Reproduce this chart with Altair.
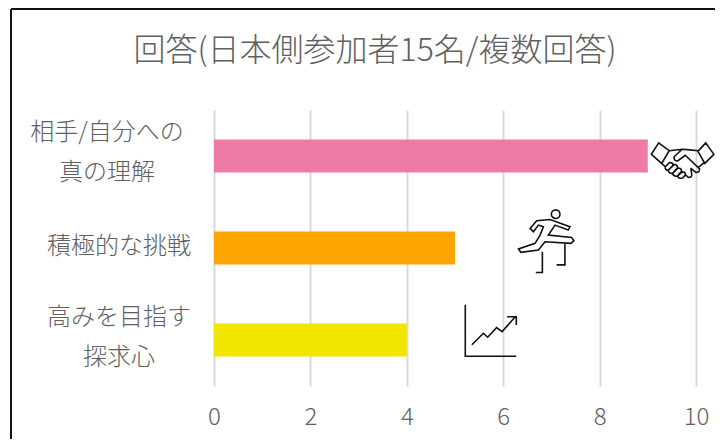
import altair as alt
import pandas as pd

FONT = "Noto Sans CJK JP"
TEXT = "#606060"

categories = ["相手/自分への\n真の理解", "積極的な挑戦", "高みを目指す\n探求心"]
values = [9, 5, 4]
colors = ["#EE7BA6", "#FFA500", "#F0E600"]
ticks = [0, 2, 4, 6, 8, 10]
title_text = "回答(日本側参加者15名/複数回答)"

WIDTH, HEIGHT = 482, 276
PAD_L, PAD_T, PAD_R, PAD_B = 206, 102, 19, 53

df = pd.DataFrame({"cat": categories, "val": values, "color": colors})
y_enc = alt.Y(
    "cat:N", sort=categories, axis=None,
    scale=alt.Scale(domain=categories, paddingInner=0.64, paddingOuter=0.32),
)

bars = alt.Chart(df).mark_bar(cornerRadius=0).encode(
    x=alt.X(
        "val:Q",
        scale=alt.Scale(domain=[0, 10], nice=False),
        axis=alt.Axis(
            values=ticks, title=None, domain=False, ticks=False,
            grid=True, gridColor="#d9d9d9", gridWidth=2,
            labelFont=FONT, labelFontSize=24, labelFontWeight=300, labelColor=TEXT,
            labelPadding=31, labelBaseline="middle", labelFlush=False, labelBound=False,
        ),
    ),
    y=y_enc,
    color=alt.Color("color:N", scale=None),
)


def label_layer(cats, x_center, dy):
    return alt.Chart(pd.DataFrame({"cat": cats})).mark_text(
        font=FONT, fontSize=24, fontWeight=300, color=TEXT,
        lineBreak="\n", lineHeight=40, align="center", baseline="middle", dy=dy,
    ).encode(x=alt.value(x_center - 214), y=y_enc, text="cat:N")


labels_a = label_layer(categories[:1], 107, -23)
labels_b = label_layer(categories[1:2], 119, -1)
labels_c = label_layer(categories[2:], 119, -22)


def icon_path(cx, cy, half, cmds):
    """Turn drawing commands measured on a crop into a unit symbol path."""
    out = []
    for c in cmds:
        if isinstance(c, str):
            out.append(c)
        else:
            out.append(f"{(c[0]-cx)/half:.3f},{(c[1]-cy)/half:.3f}")
    return " ".join(out)


handshake = icon_path(141, 122, 106, [
    "M", (62, 62), "L", (38, 100), "L", (72, 130), "L", (97, 88), "Z",
    "M", (218, 62), "L", (245, 100), "L", (215, 130), "L", (192, 90), "Z",
    "M", (97, 88), "L", (140, 83), "L", (165, 85), "L", (192, 88),
    "M", (140, 83), "L", (113, 108), "Q", (112, 122), (125, 122), "L", (150, 103),
    "L", (197, 147), "Q", (200, 160), (185, 160), "L", (168, 146),
    "M", (193, 143), "L", (212, 128),
    "M", (72, 130), "L", (84, 141),
    "M", (84, 141), "L", (97, 128), "Q", (108, 125), (110, 136), "L", (94, 152), "Q", (82, 153), (84, 141),
    "M", (94, 152), "L", (113, 134), "Q", (124, 132), (125, 144), "L", (108, 163), "Q", (94, 164), (94, 152),
    "M", (108, 163), "L", (127, 145), "Q", (138, 145), (138, 156), "L", (124, 172), "Q", (110, 174), (108, 163),
    "M", (124, 172), "L", (140, 158), "Q", (152, 158), (151, 168), "L", (142, 178), "Q", (128, 182), (124, 172),
    "M", (151, 168), "L", (160, 176), "Q", (172, 178), (172, 166), "L", (168, 146),
])

runner = icon_path(125, 122, 98, [
    "M", (165, 42), "C", (165, 49), (159, 55), (152, 55), "C", (145, 55), (139, 49), (139, 42),
    "C", (139, 35), (145, 29), (152, 29), "C", (159, 29), (165, 35), (165, 42), "Z",
    "M", (75, 85), "L", (95, 62), "L", (135, 58), "L", (195, 80), "L", (190, 90), "L", (150, 75),
    "L", (130, 105), "L", (200, 112), "L", (207, 122), "L", (198, 130), "L", (120, 125),
    "L", (100, 150), "L", (47, 157), "L", (40, 147), "L", (90, 130), "L", (105, 105),
    "L", (115, 80), "L", (100, 75), "L", (85, 95), "Z",
    "M", (112, 155), "L", (112, 218), "L", (92, 218),
    "M", (180, 130), "L", (180, 195), "L", (155, 195),
])

growth = icon_path(121, 106, 79, [
    "M", (45, 28), "L", (45, 185), "L", (200, 185),
    "M", (65, 150), "L", (100, 115), "L", (113, 127), "L", (140, 98), "L", (157, 110), "L", (197, 65),
    "M", (172, 65), "L", (200, 65), "L", (200, 90),
])


def icon(path, px, py, half):
    return alt.Chart(pd.DataFrame({"i": [0]})).mark_point(
        shape=path, filled=False, stroke="#111111", strokeWidth=1.6,
        size=(2 * half) ** 2, opacity=1,
    ).encode(x=alt.value(px - 214), y=alt.value(py - 110))


icons = [
    icon(handshake, 682.5, 161, 32),
    icon(runner, 546.7, 240.7, 32.5),
    icon(growth, 490.3, 330.3, 26),
]

edge_data = pd.DataFrame({"i": [0]})
left_edge = alt.Chart(edge_data).mark_rule(color="#111111", strokeWidth=2).encode(
    x=alt.value(11 - 214), y=alt.value(-PAD_T + 1), y2=alt.value(HEIGHT + PAD_B),
)
top_edge = alt.Chart(edge_data).mark_rule(color="#111111", strokeWidth=2).encode(
    x=alt.value(11 - 214), x2=alt.value(WIDTH + PAD_R), y=alt.value(-PAD_T + 1),
)

chart = alt.layer(bars, labels_a, labels_b, labels_c, *icons, left_edge, top_edge).properties(
    width=WIDTH,
    height=HEIGHT,
    padding={"left": PAD_L, "top": PAD_T, "right": PAD_R, "bottom": PAD_B},
    autosize=alt.AutoSizeParams(type="none"),
    background="white",
    title=alt.TitleParams(
        title_text, font=FONT, fontSize=32, fontWeight=300, color=TEXT,
        anchor="middle", dx=-80, offset=-60,
    ),
).configure_view(stroke=None)

chart.save("out.html", embed_options={"renderer": "svg", "actions": False})
